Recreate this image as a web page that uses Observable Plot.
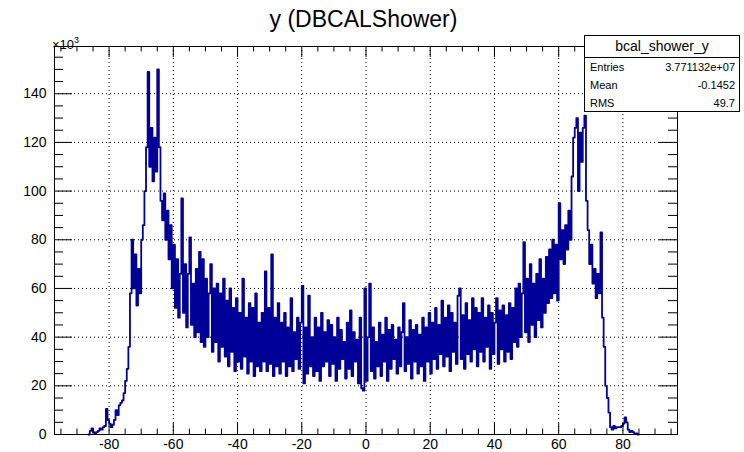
<!DOCTYPE html>
<html><head><meta charset="utf-8">
<script src="https://cdn.jsdelivr.net/npm/d3@7"></script>
<script src="https://cdn.jsdelivr.net/npm/@observablehq/plot@0.6"></script>
<style>
body{margin:0;background:#fff;}
#wrap{position:relative;width:744px;height:452px;font-family:"Liberation Sans",Arial,sans-serif;color:#000;}
#title{position:absolute;left:0;width:727px;top:6px;text-align:center;font-size:23px;line-height:26px;}
#exp{position:absolute;left:52px;top:38px;font-size:13px;line-height:14px;}
#exp sup{font-size:9px;vertical-align:6px;line-height:0;}
#stats{position:absolute;left:584px;top:35px;width:154px;height:75px;border:1px solid #000;background:#fff;font-size:11px;}
#stats .hd{height:21px;border-bottom:1px solid #000;text-align:center;font-size:14px;line-height:21px;}
#stats .row{display:flex;justify-content:space-between;padding:0 4px 0 5px;height:18px;line-height:18px;}
</style></head><body>
<div id="wrap"><div id="chart"></div><div id="title">y (DBCALShower)</div><div id="exp">×10<sup>3</sup></div><div id="stats"></div></div>
<script>
// histogram bins (units of 10^3 entries), first bin low edge and width
const binLow = -86.5;
const binWidth = 0.5;
const counts = [
  0,
  1.5, 2.5, 1.0, 0.5, 1.0, 1.5, 2.5, 2.0, 3.0, 3.5,          // -86 .. -81.5
  10.5, 6.0, 4.5, 3.0, 4.0, 6.0, 10.0, 8.0, 12.0, 13.0,      // -81 .. -76.5
  14, 17, 22, 27, 36, 58, 80, 60, 74, 53,                    // -76 .. -71.5
  68, 58, 80, 86, 100, 118, 149, 110, 126, 104,              // -71 .. -66.5
  122, 108, 150, 118, 96, 88, 99, 80, 92, 72,                // -66 .. -61.5
  86, 60, 78, 52, 72, 48, 66, 97, 50, 70,                    // -61 .. -56.5
  44, 66, 81, 45, 62, 40, 68, 42, 75, 38,                    // -56 .. -51.5
  72, 36, 64, 40, 58, 70, 34, 60, 38, 62,                    // -51 .. -46.5
  30, 58, 36, 64, 32, 55, 28, 60, 34, 52,                    // -46 .. -41.5
  26, 56, 30, 50, 27, 64, 32, 48, 25, 54,                    // -41 .. -36.5
  30, 52, 24, 58, 28, 46, 26, 50, 30, 67,                    // -36 .. -31.5
  26, 52, 29, 74, 24, 48, 28, 54, 25, 46,                    // -31 .. -26.5
  30, 50, 24, 44, 28, 56, 26, 42, 31, 48,                    // -26 .. -21.5
  27, 46, 61, 21, 44, 25, 57, 28, 40, 24,                    // -21 .. -16.5
  48, 26, 44, 22, 50, 28, 42, 30, 47, 24,                    // -16 .. -11.5
  45, 29, 40, 22, 48, 27, 43, 31, 38, 23,                    // -11 .. -6.5
  46, 27, 51, 24, 42, 30, 39, 21, 48, 19,                    // -6 .. -1.5
  18, 60, 22, 40, 62, 26, 44, 23, 38, 28,                    // -1 .. 3.5
  46, 24, 41, 30, 48, 22, 43, 27, 45, 31,                    // 4 .. 8.5
  39, 25, 44, 28, 42, 54, 26, 40, 29, 47,                    // 9 .. 13.5
  23, 43, 30, 45, 25, 41, 28, 48, 22, 44,                    // 14 .. 18.5
  30, 50, 25, 46, 31, 52, 27, 45, 33, 55,                    // 19 .. 23.5
  28, 48, 32, 53, 26, 50, 34, 46, 29, 57,                    // 24 .. 28.5
  60, 31, 49, 27, 54, 33, 47, 30, 56, 35,                    // 29 .. 33.5
  52, 28, 50, 34, 56, 30, 48, 36, 53, 27,                    // 34 .. 38.5
  50, 33, 46, 56, 29, 51, 35, 53, 30, 49,                    // 39 .. 43.5
  34, 54, 31, 52, 38, 60, 36, 62, 40, 58,                    // 44 .. 48.5
  79, 42, 64, 38, 70, 45, 62, 40, 66, 47,                    // 49 .. 53.5
  72, 44, 64, 50, 73, 54, 76, 56, 80, 58,                    // 54 .. 58.5
  78, 55, 95, 72, 84, 70, 86, 76, 92, 80,                    // 59 .. 63.5
  106, 122, 126, 130, 100, 124, 112, 126, 131, 96,           // 64 .. 68.5
  84, 70, 78, 62, 68, 56, 66, 58, 83, 48,                    // 69 .. 73.5
  36, 20, 15, 9, 3, 2, 3.5, 2.5, 3, 3,                       // 74 .. 78.5
  3, 3.5, 4.5, 7, 5, 2, 1, 1.5, 1, 0.5,                      // 79 .. 83.5
  0.5, 0
];
const xMajor = [-80, -60, -40, -20, 0, 20, 40, 60, 80];
const xMinor = [-95, -90, -85, -75, -70, -65, -55, -50, -45, -35, -30, -25, -15, -10, -5, 5, 10, 15, 25, 30, 35, 45, 50, 55, 65, 70, 75, 85, 90, 95];
const yMajor = [0, 20, 40, 60, 80, 100, 120, 140];
const yMinor = [5, 10, 15, 25, 30, 35, 45, 50, 55, 65, 70, 75, 85, 90, 95, 105, 110, 115, 125, 130, 135, 145, 150, 155];
const statNames = ["Entries", "Mean", "RMS"];
const statValues = ["3.771132e+07", "-0.1452", "49.7"];
const histName = "bcal_shower_y";

const hist = counts.map((c, i) => ({x: binLow + i * binWidth, y: c}));
hist.push({x: binLow + counts.length * binWidth, y: counts[counts.length - 1]});

const W = 744, H = 452, mL = 54, mR = 67, mT = 46, mB = 18;
const pw = W - mL - mR, ph = H - mT - mB;
const dots = {stroke: "black", strokeWidth: 1, strokeDasharray: "1,3"};

const chart = Plot.plot({
  width: W, height: H,
  marginLeft: mL, marginRight: mR, marginTop: mT, marginBottom: mB,
  style: {fontFamily: "'Liberation Sans', Arial, sans-serif", background: "white", color: "black"},
  x: {domain: [-97, 97], label: null},
  y: {domain: [0, 159.4], label: null},
  marks: [
    Plot.ruleX(xMajor, {x: d => d, ...dots}),
    Plot.ruleY(yMajor.filter(v => v > 0), {y: d => d, ...dots}),
    Plot.line(hist, {x: "x", y: "y", curve: "step-after", stroke: "#000099", strokeWidth: 1.8}),
    Plot.tickX(xMajor, {x: d => d, insetTop: ph - 11}),
    Plot.tickX(xMinor, {x: d => d, insetTop: ph - 5.5}),
    Plot.tickX(xMajor, {x: d => d, insetBottom: ph - 11}),
    Plot.tickX(xMinor, {x: d => d, insetBottom: ph - 5.5}),
    Plot.tickY(yMajor, {y: d => d, insetRight: pw - 18}),
    Plot.tickY(yMinor, {y: d => d, insetRight: pw - 9}),
    Plot.tickY(yMajor, {y: d => d, insetLeft: pw - 18}),
    Plot.tickY(yMinor, {y: d => d, insetLeft: pw - 9}),
    Plot.frame({stroke: "black", strokeWidth: 1}),
    Plot.axisX({ticks: xMajor, tickSize: 0, tickPadding: 5, fontSize: 14, tickFormat: d => String(d), label: null}),
    Plot.axisY({ticks: yMajor, tickSize: 0, tickPadding: 8, fontSize: 14, tickFormat: d => String(d), label: null})
  ]
});
document.getElementById("chart").appendChild(chart);

const st = document.getElementById("stats");
const hd = document.createElement("div"); hd.className = "hd"; hd.textContent = histName; st.appendChild(hd);
statNames.forEach((n, i) => {
  const r = document.createElement("div"); r.className = "row";
  const a = document.createElement("span"); a.textContent = n;
  const b = document.createElement("span"); b.textContent = statValues[i];
  r.appendChild(a); r.appendChild(b); st.appendChild(r);
});
</script>
</body></html>
